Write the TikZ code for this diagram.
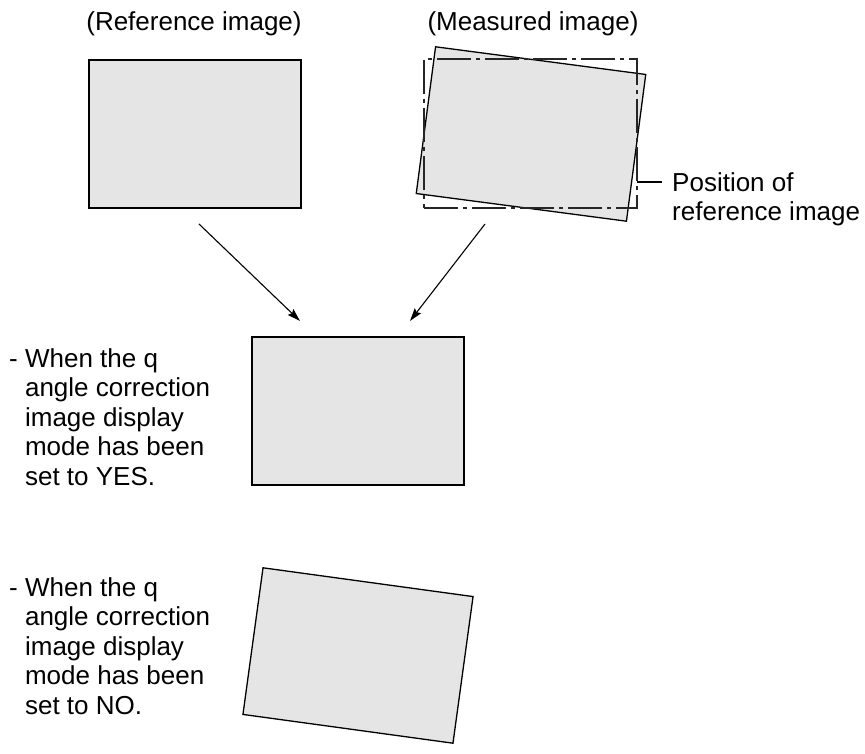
\documentclass[tikz,border=0pt]{standalone}
\usepackage{fontspec}
\setmainfont{Liberation Sans}
\usetikzlibrary{arrows.meta}
\definecolor{boxgray}{HTML}{E5E5E5}
\tikzset{
  imgbox/.style={draw=black, fill=boxgray, line width=1.3pt, inner sep=0pt,
    minimum width=212pt, minimum height=148pt, rectangle},
  refpos/.style={draw=black!85, line width=1.1pt, inner sep=0pt,
    minimum width=213pt, minimum height=149pt, rectangle,
    dash pattern=on 34pt off 5pt on 4pt off 5pt},
  lbl/.style={font=\fontsize{26}{29.5}\selectfont, inner sep=0pt, align=left},
  conn/.style={line width=1.1pt, -{Stealth[length=13pt,width=8pt,inset=2pt]}},
  leader/.style={line width=1.1pt}
}
\begin{document}
\begin{tikzpicture}[x=1pt,y=-1pt]
\useasboundingbox (0,0) rectangle (865,754);
% titles
\node[lbl, anchor=base] (t1) at (194,31) {(Reference image)};
\node[lbl, anchor=base] (t2) at (533,31) {(Measured image)};
% reference image
\node[imgbox] (ref) at (195,134) {};
% measured image
\node[imgbox, rotate=-7.5] (meas) at (531,134) {};
\node[refpos] (pos) at (530.5,133.5) {};
% leader and label (anchor base = baseline of last line)
\coordinate (ld) at (637,182);
\node[lbl, anchor=base west] (poslbl) at (672,221) {Position of\\reference image};
\draw[leader] (ld) -- (662,182);
% arrows
\coordinate (a1s) at (199,224);
\coordinate (a1e) at (300,321);
\coordinate (a2s) at (485,224);
\coordinate (a2e) at (410,321);
\draw[conn] (a1s) -- (a1e);
\draw[conn] (a2s) -- (a2e);
% corrected image
\node[imgbox] (yes) at (358,411) {};
\node[lbl, anchor=base west] (yeslbl) at (9,485) {- When the q\\\hphantom{- }angle correction\\\hphantom{- }image display\\\hphantom{- }mode has been\\\hphantom{- }set to YES.};
% uncorrected image
\node[imgbox, rotate=-7.8] (no) at (358,655.5) {};
\node[lbl, anchor=base west] (nolbl) at (9,714) {- When the q\\\hphantom{- }angle correction\\\hphantom{- }image display\\\hphantom{- }mode has been\\\hphantom{- }set to NO.};
\end{tikzpicture}
\end{document}
